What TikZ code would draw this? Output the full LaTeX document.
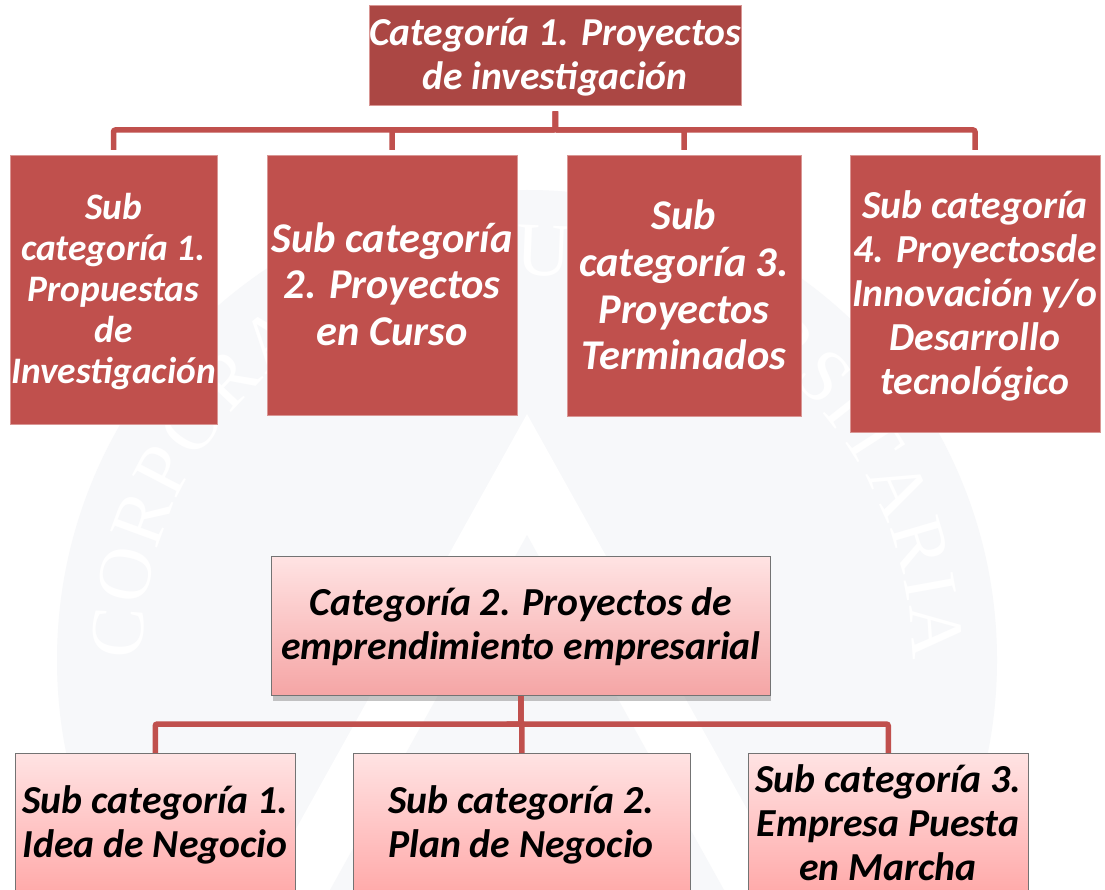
\documentclass[tikz,border=0pt]{standalone}
\usepackage{fontspec}
\setmainfont{Carlito}
\newfontfamily\sealfont{Liberation Serif}
\usetikzlibrary{calc,shadows,decorations.text}
\definecolor{barred}{HTML}{C0504D}
\definecolor{deepred}{HTML}{AB4744}
\definecolor{sealgrey}{HTML}{F7F8FA}
\definecolor{pinktop}{HTML}{FFE3E3}
\definecolor{pinkbot}{HTML}{F5A5A5}
\definecolor{pinkbotb}{HTML}{FF9F9F}
\tikzset{
  flatbox/.style={rectangle,draw=barred!60!white,line width=.5pt,fill=barred,inner sep=0pt,anchor=north west},
  softbox/.style={rectangle,draw=black!55,line width=1pt,top color=pinktop,bottom color=pinkbotb,inner sep=0pt,anchor=north west},
  conn/.style={draw=barred,line width=5.5pt,rounded corners=2pt},
  wtext/.style 2 args={text=white,align=center,inner sep=0pt,font=\bfseries\itshape\fontsize{#1}{#2}\selectfont},
  btext/.style 2 args={text=black,align=center,inner sep=0pt,font=\bfseries\itshape\fontsize{#1}{#2}\selectfont},
}
\begin{document}
\begin{tikzpicture}[x=1pt,y=-1pt]
\useasboundingbox (0,0) rectangle (1105,890);
\clip (0,0) rectangle (1105,890);
\fill[white] (0,0) rectangle (1105,890);
% watermark seal
\fill[sealgrey] (527,660) circle[radius=470];
\fill[white] (527,414) -- (792,890) -- (262,890) -- cycle;
\fill[sealgrey] (527,535) -- (724,890) -- (330,890) -- cycle;
\path[decorate,decoration={text along path,text align=fit to path,
   text={|\sealfont\fontsize{76}{76}\selectfont\color{white}|CORPORACIÓN UNIVERSITARIA}}]
   (142,660) .. controls (142,447) and (314,275) .. (527,275) .. controls (740,275) and (912,447) .. (912,660);
% category 1
\node[flatbox,fill=deepred,minimum width=372pt,minimum height=100pt] (top) at (369,5) {};
\node[wtext={39.6}{44}] (topt) at (555,57) {Categoría 1. Proyectos\\de investigación};
\node[flatbox,minimum width=206.5pt,minimum height=269pt] (c1) at (10,155) {};
\node[flatbox,minimum width=249.5pt,minimum height=260pt] (c2) at (267,155) {};
\node[flatbox,minimum width=233.5pt,minimum height=261pt] (c3) at (567,155) {};
\node[flatbox,minimum width=249.5pt,minimum height=277pt] (c4) at (850,155) {};
\node[wtext={37.4}{41.2}] (c1t) at (113.5,291.5) {Sub\\categoría 1.\\Propuestas\\de\\Investigación};
\node[wtext={42.4}{46.5}] (c2t) at (392,284) {Sub categoría\\2. Proyectos\\en Curso};
\node[wtext={42.4}{46.7}] (c3t) at (684,285) {Sub\\categoría 3.\\Proyectos\\Terminados};
\node[wtext={39.7}{44}] (c4t) at (975,295.5) {Sub categoría\\4. Proyectosde\\Innovación y/o\\Desarrollo\\tecnológico};
\coordinate (busa) at (555,130);
\foreach \c in {c1,c2,c3,c4}
  \draw[conn,shorten >=5pt,shorten <=6pt] (top.south) -- (top.south |- busa) -| (\c.north);
% category 2
\coordinate (busb) at (521,724);
\node[softbox,bottom color=pinkbot,drop shadow={shadow xshift=1pt,shadow yshift=-5pt,opacity=.45},minimum width=498.5pt,minimum height=139pt] (par) at (271,556) {};
\node[softbox,minimum width=279.5pt,minimum height=165pt] (s1) at (15,753) {};
\node[softbox,minimum width=336.5pt,minimum height=165pt] (s2) at (353,753) {};
\node[softbox,minimum width=279.5pt,minimum height=165pt] (s3) at (748,753) {};
\foreach \c in {s1,s2,s3}
  \draw[conn] (par.south) -- (par.south |- busb) -| (\c.north);
\node[btext={39.7}{44}] (part) at (521,627) {Categoría 2. Proyectos de\\emprendimiento empresarial};
\node[btext={39.7}{44}] (s1t) at (155,825) {Sub categoría 1.\\Idea de Negocio};
\node[btext={39.7}{44}] (s2t) at (521,825) {Sub categoría 2.\\Plan de Negocio};
\node[btext={39.7}{44}] (s3t) at (888,823) {Sub categoría 3.\\Empresa Puesta\\en Marcha};
\end{tikzpicture}
\end{document}
